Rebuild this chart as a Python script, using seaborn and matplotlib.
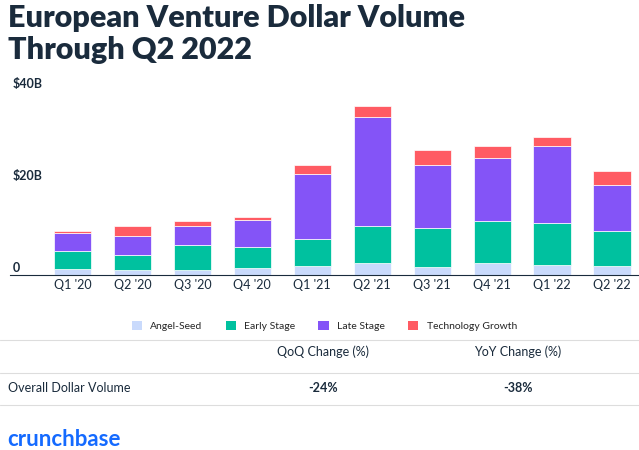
import matplotlib
matplotlib.use("Agg")
import matplotlib.pyplot as plt
import seaborn as sns
import pandas as pd
import numpy as np

quarters = ["Q1 '20", "Q2 '20", "Q3 '20", "Q4 '20", "Q1 '21", "Q2 '21", "Q3 '21", "Q4 '21", "Q1 '22", "Q2 '22"]
angel_seed = [1.2, 1.0, 1.0, 1.5, 1.9, 2.4, 1.6, 2.4, 2.1, 1.9]
early_stage = [3.8, 3.3, 5.3, 4.5, 5.9, 8.2, 8.5, 9.2, 9.1, 7.6]
late_stage = [4.1, 4.0, 4.2, 5.8, 14.0, 23.6, 13.6, 13.7, 16.7, 10.0]
tech_growth = [0.4, 2.2, 1.1, 0.7, 2.0, 2.3, 3.4, 2.5, 1.9, 3.0]
series = ["Angel-Seed", "Early Stage", "Late Stage", "Technology Growth"]
colors = ["#c9dafc", "#00c19f", "#8454f7", "#ff5b63"]

df = pd.DataFrame({"quarter": quarters, "Angel-Seed": angel_seed, "Early Stage": early_stage,
                   "Late Stage": late_stage, "Technology Growth": tech_growth})

sns.set_style("white")
plt.rcParams['font.family'] = ['Lato', 'DejaVu Sans']

fig = plt.figure(figsize=(6.39, 4.5), dpi=100)
ax = fig.add_axes([0.015, 0.39, 0.985, 0.41])

bottom = np.zeros(len(quarters))
for s, c in zip(series, colors):
    sns.barplot(data=df, x="quarter", y=s, color=c, bottom=bottom, width=0.62, saturation=1,
                ax=ax, label=s, edgecolor="white", linewidth=0.5)
    bottom = bottom + df[s].values

ax.set_ylim(0, 40)
ax.set_xlim(-1.05, 9.45)
ax.set_yticks([0, 20, 40])
ax.set_yticklabels(["0", "$20B", "$40B"], fontsize=9, fontweight="bold", color="#1a2b3c")
for t in ax.get_yticklabels():
    t.set_verticalalignment("bottom")
    t.set_horizontalalignment("left")
ax.tick_params(axis="y", length=0, pad=-2)
ax.tick_params(axis="x", length=0, labelsize=9, labelcolor="#1a2b3c")
ax.set_xlabel("")
ax.set_ylabel("")
for sp in ["top", "right", "left"]:
    ax.spines[sp].set_visible(False)
ax.spines["bottom"].set_color("#1a2b3c")
ax.legend(loc="upper center", bbox_to_anchor=(0.5, -0.2), ncol=4, frameon=False,
          fontsize=7.5, handlelength=1.0, handleheight=1.0, columnspacing=2.2)
for h in ax.get_legend().legend_handles:
    h.set_edgecolor("none")

fig.text(0.012, 0.99, "European Venture Dollar Volume\nThrough Q2 2022", fontsize=22,
         fontweight="heavy", color="#1a2b3c", va="top", linespacing=1.15)

# table
fig.text(0.505, 0.21, "QoQ Change (%)", fontsize=9, color="#1a2b3c", ha="center")
fig.text(0.81, 0.21, "YoY Change (%)", fontsize=9, color="#1a2b3c", ha="center")
fig.text(0.012, 0.13, "Overall Dollar Volume", fontsize=9, color="#1a2b3c")
fig.text(0.505, 0.13, "-24%", fontsize=9, fontweight="bold", color="#1a2b3c", ha="center")
fig.text(0.81, 0.13, "-38%", fontsize=9, fontweight="bold", color="#1a2b3c", ha="center")
for y in [0.245, 0.172, 0.1]:
    fig.add_artist(plt.Line2D([0, 1], [y, y], color="#dddddd", lw=0.8))

fig.text(0.012, 0.01, "crunchbase", fontsize=16, color="#146aff", fontweight="bold")

fig.savefig("out.png", dpi=100)
